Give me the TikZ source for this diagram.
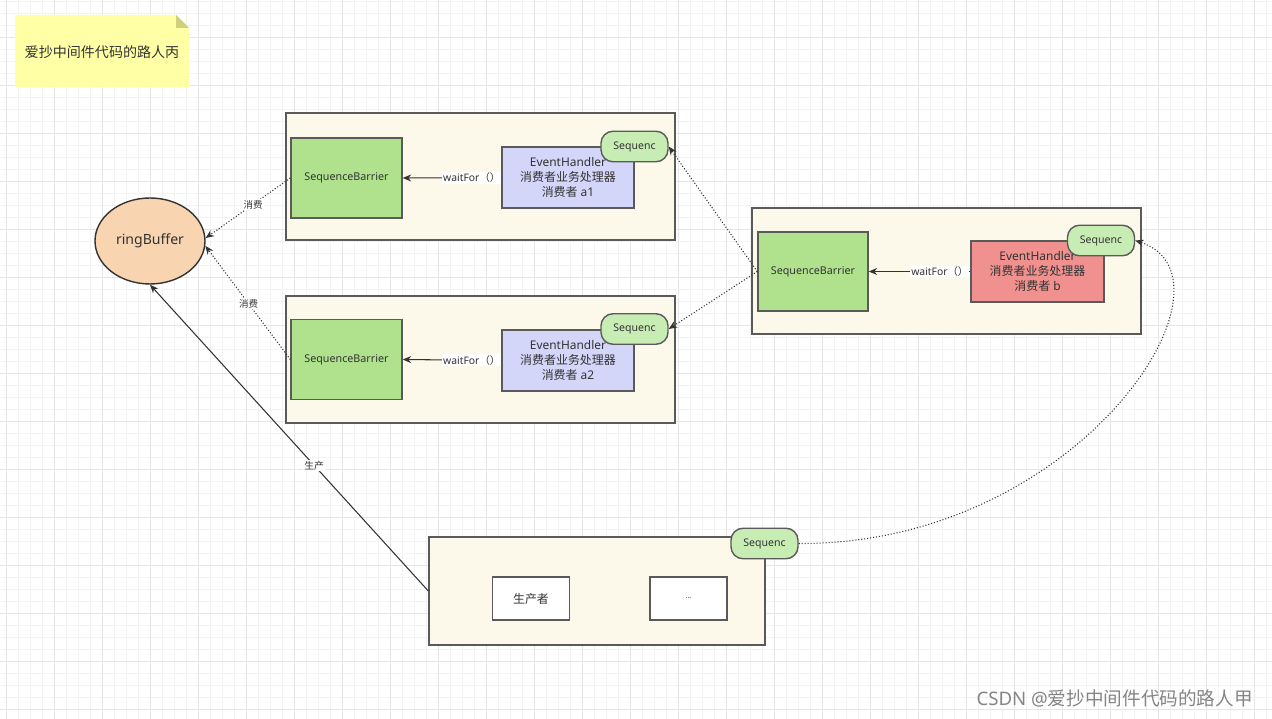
\documentclass[tikz,border=0pt]{standalone}
\usepackage{fontspec}
\setmainfont{Noto Sans}
\newfontfamily\cjk{Noto Sans CJK SC}
\usepackage{tikz}
\usetikzlibrary{arrows.meta,positioning,shapes.geometric,calc}

\definecolor{txt}{HTML}{333333}
\definecolor{edgegray}{HTML}{5A5A5A}
\definecolor{linegray}{HTML}{333333}
\definecolor{panelbg}{HTML}{FCF8EA}
\definecolor{barrgreen}{HTML}{B0E28E}
\definecolor{handlerblue}{HTML}{D3D6F8}
\definecolor{handlerred}{HTML}{F09190}
\definecolor{seqgreen}{HTML}{C8EDB4}
\definecolor{ringpeach}{HTML}{F8D4B0}
\definecolor{noteyellow}{HTML}{FFFFA6}
\definecolor{notefold}{HTML}{D0D07A}
\definecolor{gridminor}{HTML}{F3F3F3}
\definecolor{gridmajor}{HTML}{E6E6E6}

\begin{document}
\begin{tikzpicture}[
    x=0.02cm, y=-0.02cm,
    >={Stealth[length=1.7mm, width=1.4mm]},
    box/.style={draw=edgegray, line width=0.8pt, inner sep=0pt, align=center, text=txt},
    panel/.style={box, fill=panelbg, minimum width=7.78cm, minimum height=2.54cm},
    barrier/.style={box, fill=barrgreen, minimum width=2.22cm, minimum height=1.6cm, font=\fontsize{6.1}{7.5}\selectfont},
    handler/.style={box, minimum width=2.64cm, minimum height=1.22cm, font=\fontsize{6.8}{8.5}\selectfont},
    seq/.style={box, fill=seqgreen, rounded corners=0.24cm, minimum width=1.34cm, minimum height=0.61cm, font=\fontsize{6}{7}\selectfont},
    plainbox/.style={box, fill=white, minimum width=1.54cm, minimum height=0.86cm, font=\fontsize{6.8}{8}\selectfont},
    lbl/.style={fill=white, inner sep=0.6pt, text=txt, font=\fontsize{5.9}{6.8}\selectfont},
    consume/.style={->, draw=linegray, line width=0.6pt, dash pattern=on 0.6pt off 1.1pt},
    call/.style={->, draw=linegray, line width=0.6pt},
]
\useasboundingbox (0,0) rectangle (1272,719);
\fill[white] (0,0) rectangle (1272,719);

% grid
\foreach \gx in {6,18,...,1272} \draw[gridminor, line width=0.45pt] (\gx,0) -- (\gx,719);
\foreach \gy in {1,13,...,719} \draw[gridminor, line width=0.45pt] (0,\gy) -- (1272,\gy);
\foreach \gx in {6,54,...,1272} \draw[gridmajor, line width=0.55pt] (\gx,0) -- (\gx,719);
\foreach \gy in {37,85,...,719} \draw[gridmajor, line width=0.55pt] (0,\gy) -- (1272,\gy);

% note
\fill[noteyellow] (15,15) -- (176,15) -- (189,28) -- (189,87) -- (15,87) -- cycle;
\fill[notefold] (176,15) -- (189,28) -- (176,28) -- cycle;
\node[text=txt, font=\cjk\fontsize{8}{9}\selectfont] (note) at (102,52) {爱抄中间件代码的路人丙};

% ring buffer
\node[ellipse, draw=linegray, line width=0.8pt, fill=ringpeach, minimum width=2.2cm, minimum height=1.72cm,
      inner sep=0pt, text=txt, font=\fontsize{8}{9}\selectfont] (ring) at (150,241) {ringBuffer};

% consumer a1
\node[panel] (panelA1) at (480.5,176.5) {};
\node[barrier] (sbA1) at (346.5,178) {SequenceBarrier};
\node[handler, fill=handlerblue] (hA1) at (568,177.5) {EventHandler\\{\cjk 消费者业务处理器}\\{\cjk 消费者} a1};
\node[seq] (seqA1) at (634.5,146.5) {Sequenc};

% consumer a2
\node[panel] (panelA2) at (480.5,359.5) {};
\node[barrier] (sbA2) at (346.5,359.5) {SequenceBarrier};
\node[handler, fill=handlerblue] (hA2) at (568,360.5) {EventHandler\\{\cjk 消费者业务处理器}\\{\cjk 消费者} a2};
\node[seq] (seqA2) at (634.5,329) {Sequenc};

% consumer b
\node[panel, minimum height=2.52cm] (panelB) at (946.5,271) {};
\node[barrier, minimum width=2.2cm, minimum height=1.58cm] (sbB) at (813,271.5) {SequenceBarrier};
\node[handler, fill=handlerred, minimum width=2.66cm] (hB) at (1037.5,271.5) {EventHandler\\{\cjk 消费者业务处理器}\\{\cjk 消费者} b};
\node[seq] (seqB) at (1101,240.5) {Sequenc};

% producer
\node[panel, minimum width=6.72cm, minimum height=2.16cm] (panelP) at (597,591) {};
\node[plainbox] (prod) at (531,598.5) {\cjk 生产者};
\node[plainbox] (more) at (688.5,598.5) {\fontsize{4}{5}\selectfont ...};
\node[seq] (seqP) at (764.5,543.5) {Sequenc};

% waitFor calls
\draw[call] (hA1.west) -- node[lbl, pos=0.3] {waitFor{\cjk （）}} (sbA1.east);
\draw[call] (hA2.west) -- node[lbl, pos=0.3] {waitFor{\cjk （）}} (sbA2.east);
\draw[call] (hB.west) -- node[lbl, pos=0.3] {waitFor{\cjk （）}} (sbB.east);

% consume / produce
\draw[consume] (sbA1.west) -- node[lbl, pos=0.44, font=\cjk\fontsize{5.4}{6.5}\selectfont] {消费} (ring.3);
\draw[consume] (sbA2.west) -- node[lbl, pos=0.49, font=\cjk\fontsize{5.4}{6.5}\selectfont] {消费} (ring.-5);
\draw[call] (panelP.west) -- node[lbl, pos=0.41, font=\cjk\fontsize{5.6}{6.5}\selectfont] {生产} (ring.south);

% sequence dependencies
\draw[consume] (sbB.west) -- (seqA1.east);
\draw[consume] (sbB.west) -- (seqA2.east);
\draw[consume] (seqP.east) .. controls (1080,545) and (1250,278) .. (seqB.east);

% watermark
\node[anchor=east, text=black!48, font=\fontsize{10.6}{12}\selectfont] (mark) at (1259,698) {CSDN @{\cjk 爱抄中间件代码的路人甲}};

\end{tikzpicture}
\end{document}
